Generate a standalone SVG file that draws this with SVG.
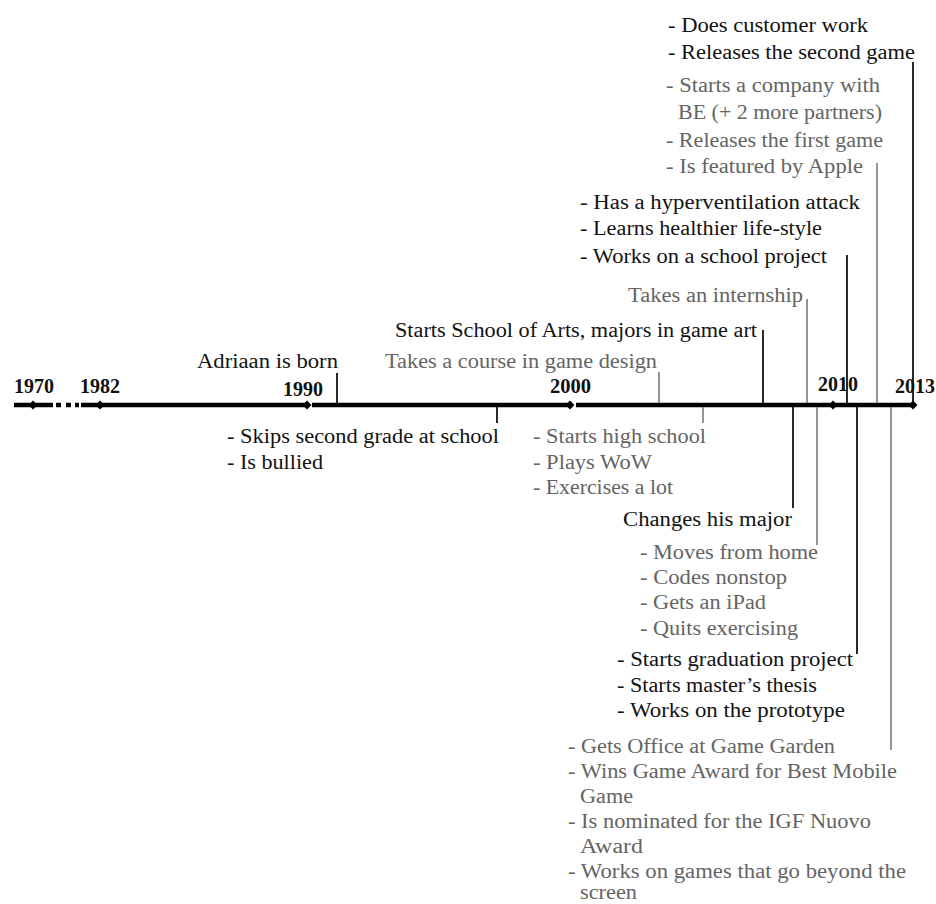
<svg xmlns="http://www.w3.org/2000/svg" width="936" height="904" viewBox="0 0 936 904">
  <style>
    text { font-family: "Liberation Serif", "Times New Roman", serif; font-size: 20.5px; }
    .dk { fill: #121212; }
    .lt { fill: #646464; }
    .yr { font-weight: bold; font-size: 20px; fill: #111; }
    .axis { stroke: #000; stroke-width: 4.5; fill: none; }
    .tk { stroke: #111; stroke-width: 1.8; fill: none; }
    .tg { stroke: #7a7a7a; stroke-width: 1.6; fill: none; }
  </style>
  <defs>
    <polygon id="dia" points="0,-4.5 4.5,0 0,4.5 -4.5,0" fill="#000"/>
  </defs>

  <!-- time axis -->
  <g id="axis">
    <line class="axis" x1="14" y1="405" x2="53" y2="405"/>
    <line class="axis" x1="56" y1="405" x2="61" y2="405"/>
    <line class="axis" x1="66" y1="405" x2="71" y2="405"/>
    <line class="axis" x1="75" y1="405" x2="79" y2="405"/>
    <line class="axis" x1="81" y1="405" x2="307" y2="405"/>
    <line class="axis" x1="312" y1="405" x2="570" y2="405"/>
    <line class="axis" x1="576" y1="405" x2="913" y2="405"/>
    <use href="#dia" x="33" y="405"/>
    <use href="#dia" x="100" y="405"/>
    <use href="#dia" x="307" y="405"/>
    <use href="#dia" x="570" y="405"/>
    <use href="#dia" x="833" y="405"/>
    <use href="#dia" x="913" y="405"/>
    <text class="yr" x="14" y="393" textLength="40" lengthAdjust="spacingAndGlyphs">1970</text>
    <text class="yr" x="80" y="393" textLength="40" lengthAdjust="spacingAndGlyphs">1982</text>
    <text class="yr" x="283" y="396" textLength="40" lengthAdjust="spacingAndGlyphs">1990</text>
    <text class="yr" x="550" y="393" textLength="41" lengthAdjust="spacingAndGlyphs">2000</text>
    <text class="yr" x="818" y="391" textLength="40" lengthAdjust="spacingAndGlyphs">2010</text>
    <text class="yr" x="895" y="393" textLength="40" lengthAdjust="spacingAndGlyphs">2013</text>
  </g>

  <!-- connectors: ticks from the axis to each event -->
  <g id="connectors">
    <line class="tk" x1="337" y1="373" x2="337" y2="403"/>
    <line class="tg" x1="659" y1="372" x2="659" y2="403"/>
    <line class="tk" x1="763" y1="330" x2="763" y2="403"/>
    <line class="tg" x1="807" y1="299" x2="807" y2="403"/>
    <line class="tk" x1="847" y1="255" x2="847" y2="403"/>
    <line class="tg" x1="877" y1="163" x2="877" y2="403"/>
    <line class="tk" x1="913" y1="62" x2="913" y2="403"/>
    <line class="tk" x1="497" y1="407" x2="497" y2="423"/>
    <line class="tg" x1="703" y1="407" x2="703" y2="423"/>
    <line class="tk" x1="793" y1="407" x2="793" y2="508"/>
    <line class="tg" x1="817" y1="407" x2="817" y2="545"/>
    <line class="tk" x1="857" y1="407" x2="857" y2="654"/>
    <line class="tg" x1="891" y1="407" x2="891" y2="750"/>
  </g>

  <!-- events above the axis -->
  <g id="born">
    <text class="dk" x="197" y="368" textLength="141" lengthAdjust="spacingAndGlyphs">Adriaan is born</text>
  </g>
  <g id="game-design-course">
    <text class="lt" x="385" y="368" textLength="272" lengthAdjust="spacingAndGlyphs">Takes a course in game design</text>
  </g>
  <g id="school-of-arts">
    <text class="dk" x="395" y="337" textLength="362" lengthAdjust="spacingAndGlyphs">Starts School of Arts, majors in game art</text>
  </g>
  <g id="internship">
    <text class="lt" x="628" y="302" textLength="175" lengthAdjust="spacingAndGlyphs">Takes an internship</text>
  </g>
  <g id="school-project">
    <text class="dk" x="580" y="209" textLength="280" lengthAdjust="spacingAndGlyphs">- Has a hyperventilation attack</text>
    <text class="dk" x="580" y="235" textLength="242" lengthAdjust="spacingAndGlyphs">- Learns healthier life-style</text>
    <text class="dk" x="580" y="263" textLength="247" lengthAdjust="spacingAndGlyphs">- Works on a school project</text>
  </g>
  <g id="company">
    <text class="lt" x="666" y="92" textLength="214" lengthAdjust="spacingAndGlyphs">- Starts a company with</text>
    <text class="lt" x="678" y="119" textLength="204" lengthAdjust="spacingAndGlyphs">BE (+ 2 more partners)</text>
    <text class="lt" x="666" y="147" textLength="217" lengthAdjust="spacingAndGlyphs">- Releases the first game</text>
    <text class="lt" x="666" y="173" textLength="197" lengthAdjust="spacingAndGlyphs">- Is featured by Apple</text>
  </g>
  <g id="second-game">
    <text class="dk" x="668" y="32" textLength="200" lengthAdjust="spacingAndGlyphs">- Does customer work</text>
    <text class="dk" x="668" y="59" textLength="247" lengthAdjust="spacingAndGlyphs">- Releases the second game</text>
  </g>

  <!-- events below the axis -->
  <g id="primary-school">
    <text class="dk" x="227" y="443" textLength="272" lengthAdjust="spacingAndGlyphs">- Skips second grade at school</text>
    <text class="dk" x="227" y="469" textLength="96" lengthAdjust="spacingAndGlyphs">- Is bullied</text>
  </g>
  <g id="high-school">
    <text class="lt" x="533" y="443" textLength="173" lengthAdjust="spacingAndGlyphs">- Starts high school</text>
    <text class="lt" x="533" y="469" textLength="119" lengthAdjust="spacingAndGlyphs">- Plays WoW</text>
    <text class="lt" x="533" y="494" textLength="140" lengthAdjust="spacingAndGlyphs">- Exercises a lot</text>
  </g>
  <g id="major-change">
    <text class="dk" x="623" y="526" textLength="169" lengthAdjust="spacingAndGlyphs">Changes his major</text>
  </g>
  <g id="moving-out">
    <text class="lt" x="640" y="559" textLength="178" lengthAdjust="spacingAndGlyphs">- Moves from home</text>
    <text class="lt" x="640" y="584" textLength="147" lengthAdjust="spacingAndGlyphs">- Codes nonstop</text>
    <text class="lt" x="640" y="609" textLength="126" lengthAdjust="spacingAndGlyphs">- Gets an iPad</text>
    <text class="lt" x="640" y="635" textLength="158" lengthAdjust="spacingAndGlyphs">- Quits exercising</text>
  </g>
  <g id="graduation">
    <text class="dk" x="617" y="666" textLength="236" lengthAdjust="spacingAndGlyphs">- Starts graduation project</text>
    <text class="dk" x="617" y="692" textLength="200" lengthAdjust="spacingAndGlyphs">- Starts master’s thesis</text>
    <text class="dk" x="617" y="717" textLength="228" lengthAdjust="spacingAndGlyphs">- Works on the prototype</text>
  </g>
  <g id="game-garden">
    <text class="lt" x="568" y="753" textLength="267" lengthAdjust="spacingAndGlyphs">- Gets Office at Game Garden</text>
    <text class="lt" x="568" y="778" textLength="329" lengthAdjust="spacingAndGlyphs">- Wins Game Award for Best Mobile</text>
    <text class="lt" x="580" y="803" textLength="53" lengthAdjust="spacingAndGlyphs">Game</text>
    <text class="lt" x="568" y="828" textLength="303" lengthAdjust="spacingAndGlyphs">- Is nominated for the IGF Nuovo</text>
    <text class="lt" x="580" y="853" textLength="63" lengthAdjust="spacingAndGlyphs">Award</text>
    <text class="lt" x="568" y="878" textLength="338" lengthAdjust="spacingAndGlyphs">- Works on games that go beyond the</text>
    <text class="lt" x="580" y="899" textLength="57" lengthAdjust="spacingAndGlyphs">screen</text>
  </g>
</svg>
